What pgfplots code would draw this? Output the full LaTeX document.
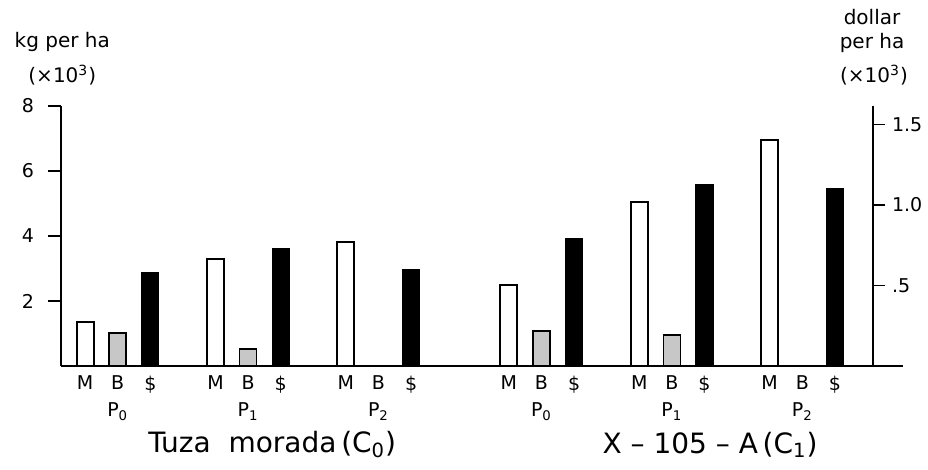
\documentclass[border=0pt]{standalone}
\usepackage{pgfplots}
\pgfplotsset{compat=1.18}
\usepackage{fontspec}
\setmainfont{DejaVu Sans}

% yields in kg per ha (x1000), returns in dollar per ha (x1000)
\pgfplotstableread{
x   y
0   1.35
4   3.30
8   3.82
13  2.49
17  5.05
21  6.95
}\maize
\pgfplotstableread{
x   y
1   1.02
5   0.53
14  1.08
18  0.95
}\beans
\pgfplotstableread{
x   y
2   0.58
6   0.727
10  0.60
15  0.789
19  1.124
23  1.10
}\dollars

\begin{document}
\begin{tikzpicture}
\useasboundingbox (-30.5pt,-52pt) rectangle (433.5pt,183pt);
\begin{axis}[
    at={(0pt,0pt)}, anchor=south west,
    scale only axis, width=421pt, height=130pt,
    xmin=-0.74, xmax=25.09, ymin=0, ymax=8,
    axis x line=bottom, axis y line=left,
    x axis line style={-, line width=1pt},
    y axis line style={-, line width=1pt},
    xtick={0,1,2,4,5,6,8,9,10,13,14,15,17,18,19,21,22,23},
    xticklabels={M,B,\$,M,B,\$,M,B,\$,M,B,\$,M,B,\$,M,B,\$},
    xtick style={draw=none},
    xticklabel style={yshift=5pt},
    ytick={2,4,6,8}, yticklabels={2,4,6,8},
    yticklabel style={xshift=-3.5pt},
    tick align=outside, major tick length=6.5pt,
    ytick style={line width=0.8pt, black},
    tick label style={font=\fontsize{9.5}{11}\selectfont},
    clip=false,
]
\addplot[ybar, bar width=8.5pt, bar shift=0pt, fill=white, draw=black, line width=1pt] table[x=x, y=y] {\maize};
\addplot[ybar, bar width=8.5pt, bar shift=0pt, fill=black!22, draw=black, line width=0.8pt] table[x=x, y=y] {\beans};

\node[font=\fontsize{9.5}{11}\selectfont] at (axis cs:1,-1.4) {P\textsubscript{0}};
\node[font=\fontsize{9.5}{11}\selectfont] at (axis cs:5,-1.4) {P\textsubscript{1}};
\node[font=\fontsize{9.5}{11}\selectfont] at (axis cs:9,-1.4) {P\textsubscript{2}};
\node[font=\fontsize{9.5}{11}\selectfont] at (axis cs:14,-1.4) {P\textsubscript{0}};
\node[font=\fontsize{9.5}{11}\selectfont] at (axis cs:18,-1.4) {P\textsubscript{1}};
\node[font=\fontsize{9.5}{11}\selectfont] at (axis cs:22,-1.4) {P\textsubscript{2}};

\node[font=\fontsize{14}{16}\selectfont] at (axis cs:5.74,-2.42) {Tuza\ \ morada\,(C\textsubscript{0})};
\node[font=\fontsize{14}{16}\selectfont] at (axis cs:19.17,-2.42) {X -- 105 -- A\,(C\textsubscript{1})};

\node[font=\fontsize{10}{12}\selectfont] at (axis cs:-0.7,9.97) {kg per ha};
\node[font=\fontsize{10}{12}\selectfont] at (axis cs:-0.7,8.95) {(×10\textsuperscript{3})};
\node[font=\fontsize{10}{12}\selectfont] at (axis cs:24.14,10.74) {dollar};
\node[font=\fontsize{10}{12}\selectfont] at (axis cs:24.14,9.94) {per ha};
\node[font=\fontsize{10}{12}\selectfont] at (axis cs:24.2,8.95) {(×10\textsuperscript{3})};
\end{axis}

\begin{axis}[
    at={(0pt,0pt)}, anchor=south west,
    scale only axis, width=406pt, height=130pt,
    xmin=-0.74, xmax=24.17, ymin=0, ymax=1.6154,
    axis x line=none, axis y line=right,
    y axis line style={-, line width=1pt},
    ytick={0.5,1,1.5}, yticklabels={.5,1.0,1.5},
    tick align=outside, major tick length=6pt,
    ytick style={line width=0.8pt, black},
    tick label style={font=\fontsize{9.5}{11}\selectfont},
    clip=false,
]
\addplot[ybar, bar width=8.5pt, bar shift=0pt, fill=black, draw=black, line width=0.6pt] table[x=x, y=y] {\dollars};
\end{axis}
\end{tikzpicture}
\end{document}
